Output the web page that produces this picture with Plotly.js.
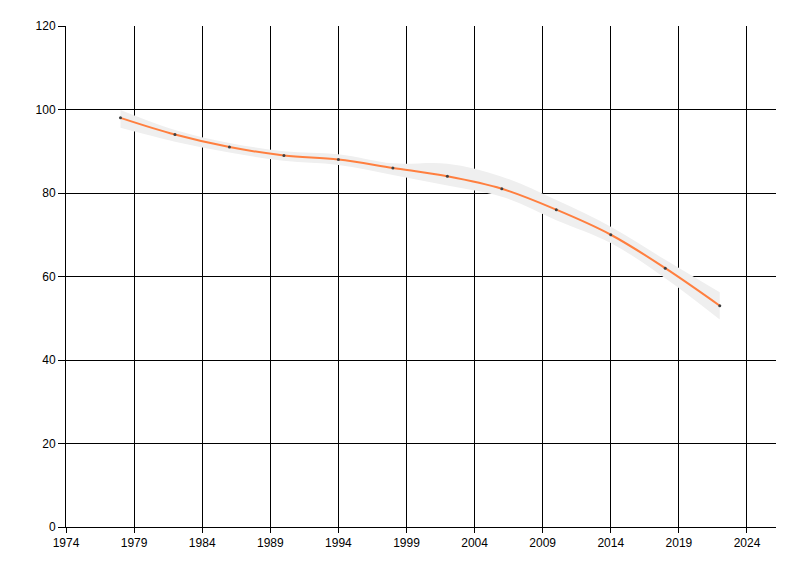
<!DOCTYPE html>
<html>
<head>
<meta charset="utf-8">
<script src="https://cdn.plot.ly/plotly-3.0.1.min.js"></script>
<style>html,body{margin:0;padding:0;background:#fff;}#chart{width:800px;height:576px;}</style>
</head>
<body>
<div id="chart"></div>
<script>
const years = [1978, 1982, 1986, 1990, 1994, 1998, 2002, 2006, 2010, 2014, 2018, 2022];
const values = [98, 94, 91, 89, 88, 86, 84, 81, 76, 70, 62, 53];
const upperBand = [99.9, 95.1, 92.0, 90.0, 89.3, 87.1, 87.0, 83.9, 78.3, 71.9, 64.0, 56.2];
const lowerBand = [95.6, 92.3, 89.7, 87.7, 86.7, 84.3, 81.8, 79.1, 73.5, 68.0, 59.6, 49.7];
const xTicks = [1974, 1979, 1984, 1989, 1994, 1999, 2004, 2009, 2014, 2019, 2024];
const yTicks = [0, 20, 40, 60, 80, 100, 120];

const traces = [
  {x: years, y: upperBand, type: 'scatter', mode: 'lines', line: {width: 0, shape: 'spline', color: 'rgba(0,0,0,0)'}, hoverinfo: 'skip', showlegend: false},
  {x: years, y: lowerBand, type: 'scatter', mode: 'lines', fill: 'tonexty', fillcolor: '#efefef', line: {width: 0, shape: 'spline', color: 'rgba(0,0,0,0)'}, hoverinfo: 'skip', showlegend: false},
  {x: years, y: values, type: 'scatter', mode: 'lines+markers', line: {color: '#ff7f3f', width: 2, shape: 'spline'}, marker: {color: '#404040', size: 3}, showlegend: false}
];

const axisFont = {family: '"Liberation Sans", Arial, sans-serif', size: 12, color: '#000'};
const layout = {
  width: 800, height: 576,
  paper_bgcolor: '#fff', plot_bgcolor: '#fff',
  margin: {l: 66, r: 24, t: 26, b: 49, pad: 0},
  showlegend: false,
  xaxis: {
    range: [1974, 2026.13], tickvals: xTicks, ticktext: xTicks.map(String),
    showgrid: true, gridcolor: '#000', gridwidth: 1,
    showline: true, linecolor: '#000', linewidth: 1, zeroline: false,
    ticks: 'outside', ticklen: 5, tickcolor: '#000', tickfont: axisFont
  },
  yaxis: {
    range: [0, 120], tickvals: yTicks, ticktext: yTicks.map(String),
    showgrid: true, gridcolor: '#000', gridwidth: 1,
    showline: true, linecolor: '#000', linewidth: 1, zeroline: false,
    ticks: 'outside', ticklen: 7, tickcolor: '#000', tickfont: axisFont
  }
};
Plotly.newPlot('chart', traces, layout, {displayModeBar: false, staticPlot: true});
</script>
</body>
</html>
